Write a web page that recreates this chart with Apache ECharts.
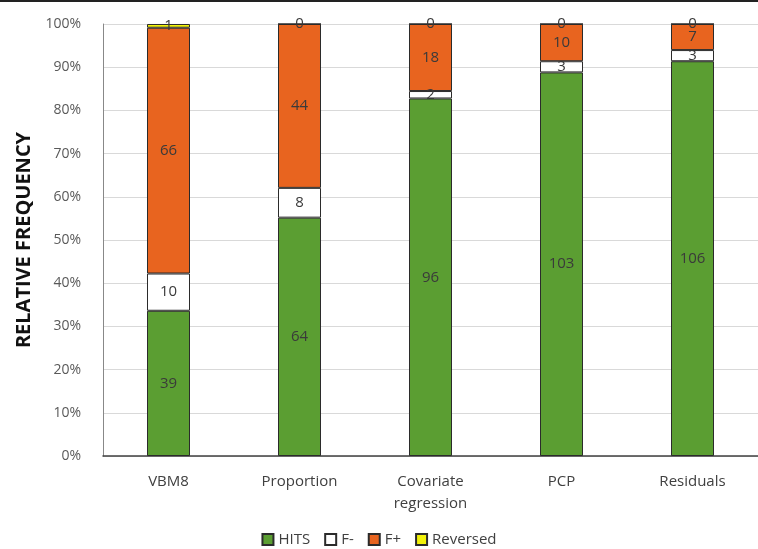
<!DOCTYPE html>
<html><head><meta charset="utf-8">
<script src="https://cdn.jsdelivr.net/npm/echarts@6/dist/echarts.min.js"></script>
<style>html,body{margin:0;padding:0;background:#fff}#c{width:758px;height:549px}</style>
</head><body><div id="c"></div>
<script>
const categories = ['VBM8', 'Proportion', 'Covariate\nregression', 'PCP', 'Residuals'];
const hits = [39, 64, 96, 103, 106];
const fneg = [10, 8, 2, 3, 3];
const fpos = [66, 44, 18, 10, 7];
const reversed = [1, 0, 0, 0, 0];
const yTicks = [0, 10, 20, 30, 40, 50, 60, 70, 80, 90, 100];

const totals = categories.map((_, i) => hits[i] + fneg[i] + fpos[i] + reversed[i]);
const pct = arr => arr.map((v, i) => ({ value: Math.round(v / totals[i] * 1e6) / 1e4, count: v }));

const chart = echarts.init(document.getElementById('c'));
const lbl = {
  show: true, position: 'inside', color: '#3a3a3a', fontSize: 15,
  fontFamily: 'Open Sans', formatter: p => p.data.count
};
const border = { borderColor: '#2b2b2b', borderWidth: 1 };
function mk(name, arr, color) {
  return {
    name, type: 'bar', stack: 's', data: pct(arr), barWidth: 43, clip: false,
    itemStyle: Object.assign({ color }, border),
    label: lbl, emphasis: { disabled: true }
  };
}
chart.setOption({
  animation: false,
  textStyle: { fontFamily: 'Open Sans' },
  graphic: [{ type: 'line', shape: { x1: 0, y1: 1, x2: 758, y2: 1 }, style: { stroke: '#222', lineWidth: 2 } }],
  grid: { left: 103, right: -10, top: 24, bottom: 93 },
  legend: {
    bottom: -3, itemWidth: 11, itemHeight: 11, itemGap: 14,
    icon: 'rect', textStyle: { fontSize: 15, color: '#404040' },
    data: ['HITS', 'F-', 'F+', 'Reversed']
  },
  xAxis: {
    type: 'category', data: categories,
    axisLine: { lineStyle: { color: '#404040', width: 1.5 } },
    axisTick: { show: false },
    axisLabel: { fontSize: 15, color: '#404040', margin: 15, lineHeight: 22 }
  },
  yAxis: {
    type: 'value', min: 0, max: 100, interval: 10,
    name: 'RELATIVE FREQUENCY', nameLocation: 'middle', nameGap: 66,
    nameTextStyle: { fontSize: 20, fontWeight: 'bold', color: '#111', fontFamily: 'Open Sans' },
    axisLine: { show: true, lineStyle: { color: '#888' } },
    axisLabel: { fontSize: 14, color: '#595959', margin: 22, formatter: v => v + '%' },
    splitLine: { lineStyle: { color: '#d9d9d9' } }
  },
  series: [
    mk('HITS', hits, '#5b9e32'),
    mk('F-', fneg, '#ffffff'),
    mk('F+', fpos, '#e8641f'),
    mk('Reversed', reversed, '#f2f20a')
  ]
});
</script></body></html>
